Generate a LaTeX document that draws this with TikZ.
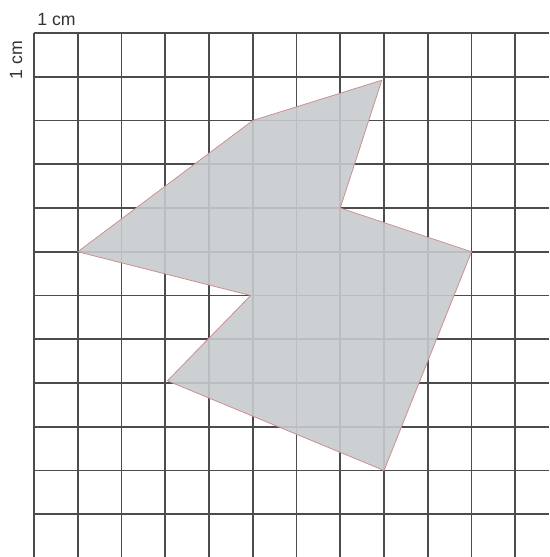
\documentclass[tikz,border=0pt]{standalone}
\usepackage{fontspec}
\setmainfont{Liberation Sans}
\begin{document}
\begin{tikzpicture}[x=1cm,y=1cm,
  gridline/.style={draw=black!70,line width=1.1pt},
  shape fill/.style={fill={rgb,255:red,200;green,203;blue,206},fill opacity=0.9,draw={rgb,255:red,205;green,140;blue,140},line width=0.5pt,line join=round},
  label text/.style={font=\fontsize{11.5}{13}\selectfont,text=black!80,inner sep=0pt}]
\useasboundingbox[fill=white] (-0.777,0.754) rectangle (11.772,-11.977);
% grid
\foreach \i in {0,...,11}{
  \draw[gridline] (\i,0) -- (\i,-11.977);
  \draw[gridline] (0,-\i) -- (11.772,-\i);
}
% polygon vertices
\coordinate (A) at (1,-5);
\coordinate (B) at (5,-2);
\coordinate (C) at (7.95,-1.08);
\coordinate (D) at (7,-4);
\coordinate (E) at (10,-5);
\coordinate (F) at (8,-10);
\coordinate (G) at (3.05,-7.95);
\coordinate (H) at (4.95,-6);
\path[shape fill] (A) -- (B) -- (C) -- (D) -- (E) -- (F) -- (G) -- (H) -- cycle;
% labels
\node[label text,anchor=west] (top) at (0.07,0.3) {1 cm};
\node[label text,anchor=west,rotate=90] (left) at (-0.41,-1.07) {1 cm};
\end{tikzpicture}
\end{document}
